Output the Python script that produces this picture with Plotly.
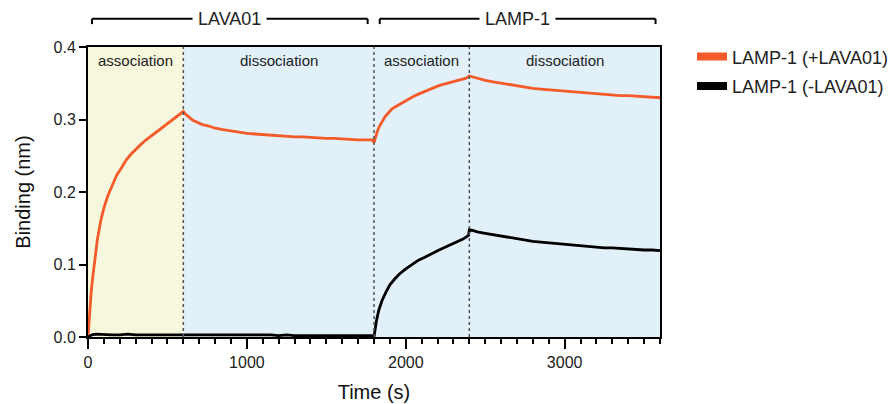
import plotly.graph_objects as go

# ---------------- data ----------------
t_plus = [0, 5, 10, 20, 30, 45, 60, 80, 100, 125, 150, 180, 210, 240, 270, 300, 330, 360,
          390, 420, 450, 480, 510, 540, 570, 600,
          615, 630, 660, 690, 720, 760, 800, 850, 900, 950, 1000, 1050, 1100, 1150, 1200,
          1250, 1300, 1350, 1400, 1450, 1500, 1550, 1600, 1650, 1700, 1750, 1790, 1800,
          1810, 1820, 1835, 1850, 1870, 1890, 1910, 1930, 1960, 1990, 2020, 2050, 2080,
          2110, 2140, 2170, 2200, 2230, 2260, 2290, 2320, 2350, 2380, 2400,
          2430, 2460, 2500, 2550, 2600, 2650, 2700, 2750, 2800, 2850, 2900, 2950, 3000,
          3050, 3100, 3150, 3200, 3250, 3300, 3350, 3400, 3450, 3500, 3550, 3600]
b_plus = [0.000, 0.020, 0.035, 0.062, 0.083, 0.112, 0.136, 0.160, 0.178, 0.195, 0.209, 0.223,
          0.233, 0.244, 0.252, 0.259, 0.265, 0.271, 0.276, 0.281, 0.286, 0.291, 0.296, 0.300,
          0.305, 0.311,
          0.307, 0.304, 0.299, 0.296, 0.293, 0.291, 0.288, 0.286, 0.284, 0.283, 0.281, 0.280,
          0.279, 0.278, 0.277, 0.277, 0.276, 0.276, 0.275, 0.275, 0.274, 0.274, 0.273, 0.273,
          0.272, 0.272, 0.272, 0.268,
          0.277, 0.283, 0.291, 0.297, 0.304, 0.309, 0.314, 0.317, 0.321, 0.325, 0.329, 0.332,
          0.335, 0.338, 0.341, 0.343, 0.346, 0.348, 0.350, 0.352, 0.354, 0.356, 0.357, 0.360,
          0.358, 0.356, 0.354, 0.352, 0.350, 0.348, 0.346, 0.345, 0.343, 0.342, 0.341, 0.340,
          0.339, 0.338, 0.337, 0.336, 0.335, 0.335, 0.334, 0.333, 0.333, 0.332, 0.332, 0.331,
          0.330]

t_minus = [0, 25, 50, 100, 150, 200, 250, 300, 350, 400, 450, 500, 550, 600, 650, 700, 750,
           800, 850, 900, 950, 1000, 1050, 1100, 1150, 1200, 1250, 1300, 1350, 1400, 1450,
           1500, 1550, 1600, 1650, 1700, 1750, 1795,
           1800, 1805, 1815, 1830, 1850, 1875, 1900, 1930, 1960, 2000, 2040, 2080, 2120,
           2160, 2200, 2240, 2280, 2320, 2360, 2395, 2400,
           2420, 2450, 2500, 2550, 2600, 2650, 2700, 2750, 2800, 2850, 2900, 2950, 3000,
           3050, 3100, 3150, 3200, 3250, 3300, 3350, 3400, 3450, 3500, 3550, 3600]
b_minus = [0.000, 0.003, 0.004, 0.003, 0.003, 0.003, 0.004, 0.003, 0.003, 0.003, 0.004, 0.003,
           0.003, 0.003, 0.003, 0.004, 0.003, 0.004, 0.003, 0.003, 0.003, 0.003, 0.003, 0.003,
           0.003, 0.002, 0.003, 0.002, 0.002, 0.002, 0.003, 0.002, 0.002, 0.002, 0.002, 0.002,
           0.002, 0.002,
           0.000, 0.010, 0.022, 0.037, 0.050, 0.062, 0.072, 0.080, 0.087, 0.094, 0.100, 0.106,
           0.110, 0.115, 0.119, 0.123, 0.127, 0.131, 0.135, 0.140, 0.148,
           0.147, 0.145, 0.143, 0.141, 0.139, 0.137, 0.135, 0.134, 0.132, 0.131, 0.130, 0.129,
           0.128, 0.127, 0.126, 0.125, 0.124, 0.123, 0.123, 0.122, 0.121, 0.121, 0.120, 0.120,
           0.119]

series_names = ["LAMP-1 (+LAVA01)", "LAMP-1 (-LAVA01)"]
series_colors = ["#F45A2A", "#000000"]

phase_edges = [0, 600, 1800, 2400, 3600]
phase_labels = ["association", "dissociation", "association", "dissociation"]
phase_fills = ["#F7F7DD", "#E1F0F9", "#E1F0F9", "#E1F0F9"]
dotted_at = [600, 1800, 2400]

bracket_labels = ["LAVA01", "LAMP-1"]
bracket_spans = [(25, 1760), (1836, 3572)]

x_major = [0, 1000, 2000, 3000]
y_ticks = [0.0, 0.1, 0.2, 0.3, 0.4]

FONT = "Liberation Sans, Arial, sans-serif"

fig = go.Figure()

fig.add_trace(go.Scatter(x=t_plus, y=b_plus, mode="lines", showlegend=False,
                         line=dict(color=series_colors[0], width=2.8), name=series_names[0]))
fig.add_trace(go.Scatter(x=t_minus, y=b_minus, mode="lines", showlegend=False,
                         line=dict(color=series_colors[1], width=2.8), name=series_names[1]))

# legend entries (thick pill-like samples)
for i, (nm, col) in enumerate(zip(series_names, series_colors)):
    fig.add_trace(go.Scatter(x=[None], y=[None], mode="lines", name=nm,
                             legendgroup="g%d" % i,
                             line=dict(color=col, width=8)))

shapes = []
for i in range(4):
    shapes.append(dict(type="rect", xref="x", yref="y", x0=phase_edges[i], x1=phase_edges[i + 1],
                       y0=0, y1=0.4, fillcolor=phase_fills[i], line=dict(width=0), layer="below"))
for xv in dotted_at:
    shapes.append(dict(type="line", xref="x", yref="y", x0=xv, x1=xv, y0=0, y1=0.4,
                       line=dict(color="#555555", width=1.5, dash="dot"), layer="above"))
yb, yt = 1.097, 1.079
for (a, b) in bracket_spans:
    shapes.append(dict(type="line", xref="x", yref="paper", x0=a, x1=b, y0=yb, y1=yb,
                       line=dict(color="black", width=2)))
    shapes.append(dict(type="line", xref="x", yref="paper", x0=a, x1=a, y0=yb, y1=yt,
                       line=dict(color="black", width=2)))
    shapes.append(dict(type="line", xref="x", yref="paper", x0=b, x1=b, y0=yb, y1=yt,
                       line=dict(color="black", width=2)))

annotations = []
for i, lab in enumerate(phase_labels):
    annotations.append(dict(x=(phase_edges[i] + phase_edges[i + 1]) / 2, y=0.381, xref="x", yref="y",
                            text=lab, showarrow=False, font=dict(size=15, color="#222", family=FONT)))
for lab, (a, b) in zip(bracket_labels, bracket_spans):
    annotations.append(dict(x=(a + b) / 2, y=yb, xref="x", yref="paper", yanchor="middle",
                            text=lab, showarrow=False,
                            bgcolor="white", borderpad=5, font=dict(size=18, color="#222", family=FONT)))

fig.update_layout(
    width=896, height=404,
    margin=dict(l=88, r=236, t=47, b=67, autoexpand=False),
    paper_bgcolor="white", plot_bgcolor="white",
    font=dict(family=FONT, color="#222"),
    shapes=shapes, annotations=annotations,
    legend=dict(x=1.056, y=1.03, xanchor="left", yanchor="top",
                font=dict(size=18, family=FONT, color="#222"),
                traceorder="grouped", tracegroupgap=3, bgcolor="rgba(0,0,0,0)"),
    xaxis=dict(range=[0, 3600], tickvals=x_major, ticktext=[str(v) for v in x_major],
               ticks="outside", ticklen=10, tickwidth=2, tickcolor="black", automargin=False,
               minor=dict(dtick=100, ticks="outside", ticklen=5, tickwidth=1.5, tickcolor="black",
                          showgrid=False),
               showline=True, linewidth=2, linecolor="black", mirror=True,
               showgrid=False, zeroline=False,
               tickfont=dict(size=16, family=FONT, color="#222"),
               title=dict(text="Time (s)", font=dict(size=20, family=FONT, color="#111"), standoff=15)),
    yaxis=dict(range=[0, 0.4], tickvals=y_ticks, ticktext=["%.1f" % v for v in y_ticks],
               ticks="outside", ticklen=7, tickwidth=2, tickcolor="black", automargin=False,
               showline=True, linewidth=2, linecolor="black", mirror=True,
               showgrid=False, zeroline=False,
               tickfont=dict(size=16, family=FONT, color="#222"),
               title=dict(text="Binding (nm)", font=dict(size=20, family=FONT, color="#111"), standoff=18)),
)

fig.write_html("out.html")
